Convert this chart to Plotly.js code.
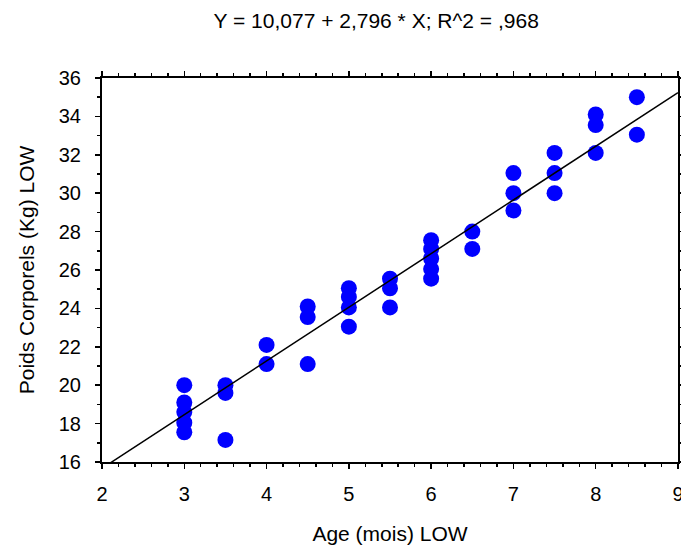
<!DOCTYPE html>
<html>
<head>
<meta charset="utf-8">
<script src="https://cdn.plot.ly/plotly-3.0.1.min.js"></script>
<style>html,body{margin:0;padding:0;background:#fff;}#chart{width:681px;height:546px;}</style>
</head>
<body>
<div id="chart"></div>
<script>
// Age (mois) values
const ageMois = [
  3, 3, 3, 3, 3,
  3.5, 3.5, 3.5,
  4, 4,
  4.5, 4.5, 4.5,
  5, 5, 5, 5,
  5.5, 5.5, 5.5,
  6, 6, 6, 6, 6,
  6.5, 6.5,
  7, 7, 7,
  7.5, 7.5, 7.5,
  8, 8, 8,
  8.5, 8.5
];
// Poids Corporels (Kg) values
const poidsKg = [
  20.0, 19.1, 18.6, 18.05, 17.55,
  20.0, 19.6, 17.15,
  22.1, 21.1,
  24.1, 23.55, 21.1,
  25.05, 24.6, 24.05, 23.05,
  25.55, 25.05, 24.05,
  27.55, 27.1, 26.6, 26.05, 25.55,
  28.0, 27.1,
  31.05, 30.0, 29.1,
  32.1, 31.05, 30.0,
  34.1, 33.55, 32.1,
  35.0, 33.05
];
// regression coefficients (from title)
const intercept = 10.077;
const slope = 2.796;
const r2 = 0.968;
const lineX = [2, 9];
const lineY = lineX.map(x => intercept + slope * x);

const xTicks = [2, 3, 4, 5, 6, 7, 8, 9];
const yTicks = [16, 18, 20, 22, 24, 26, 28, 30, 32, 34, 36];

const titleText = 'Y = 10,077 + 2,796 * X; R^2 = ,968';
const xTitle = 'Age (mois) LOW';
const yTitle = 'Poids Corporels (Kg) LOW';

const FONT = 'Liberation Sans, Arial, sans-serif';

const traces = [
  {
    x: ageMois, y: poidsKg, type: 'scatter', mode: 'markers',
    marker: {size: 16, color: 'rgb(0,0,255)', line: {width: 0}},
    hoverinfo: 'skip', showlegend: false
  },
  {
    x: lineX, y: lineY, type: 'scatter', mode: 'lines',
    line: {color: 'black', width: 1.5},
    hoverinfo: 'skip', showlegend: false
  }
];

const axisCommon = {
  showgrid: false, zeroline: false, showline: true, linecolor: 'black', linewidth: 2,
  mirror: 'ticks', ticks: 'outside', ticklen: 5, tickwidth: 1.5, tickcolor: 'black',
  tickfont: {family: FONT, size: 20, color: 'black'},
  ticklabeloverflow: 'allow',
  automargin: false
};

const layout = {
  width: 681, height: 546,
  margin: {l: 102, r: 3, t: 78, b: 84, pad: 0},
  paper_bgcolor: 'white', plot_bgcolor: 'white',
  font: {family: FONT, color: 'black'},
  title: {
    text: titleText, font: {family: FONT, size: 21, color: 'black'},
    xref: 'paper', x: 0.476, xanchor: 'center',
    yref: 'container', y: 1 - 21/546, yanchor: 'middle'
  },
  xaxis: Object.assign({}, axisCommon, {
    range: [2, 9], tickvals: xTicks, ticktext: xTicks.map(String),
    ticklabelstandoff: 8,
    minor: {ticks: 'outside', dtick: 0.2, tick0: 2, ticklen: 3, tickwidth: 1.5, tickcolor: 'black', showgrid: false},
    title: {text: xTitle, font: {family: FONT, size: 21, color: 'black'}, standoff: 22}
  }),
  yaxis: Object.assign({}, axisCommon, {
    range: [16, 36], tickvals: yTicks, ticktext: yTicks.map(String),
    ticklabelstandoff: 10,
    minor: {ticks: 'outside', dtick: 1, tick0: 16, ticklen: 3, tickwidth: 1.5, tickcolor: 'black', showgrid: false},
    title: {text: yTitle, font: {family: FONT, size: 21, color: 'black'}, standoff: 18}
  })
};

Plotly.newPlot('chart', traces, layout, {staticPlot: true, displayModeBar: false});
</script>
</body>
</html>
